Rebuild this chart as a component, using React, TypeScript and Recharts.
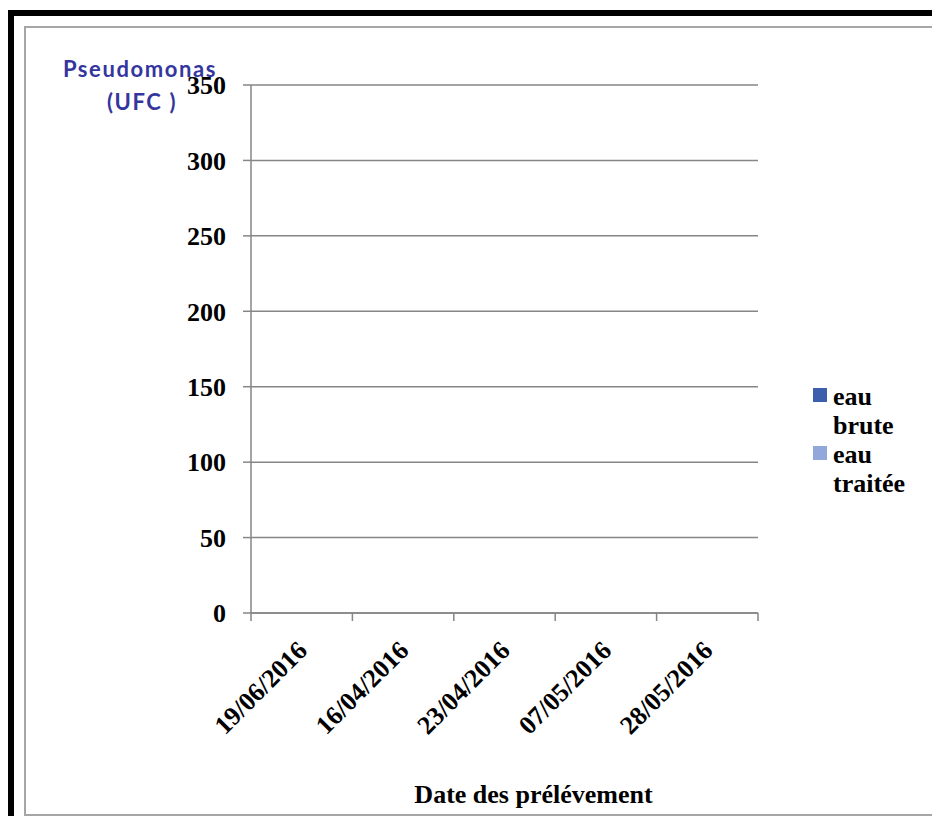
import * as React from 'react';
import { BarChart, Bar, XAxis, YAxis, CartesianGrid, Legend, Label } from 'recharts';

// sampling dates (x categories)
const dates = ['19/06/2016', '16/04/2016', '23/04/2016', '07/05/2016', '28/05/2016'];
// Pseudomonas counts (UFC) per sample
const eauBrute = [0, 0, 0, 0, 0];
const eauTraitee = [0, 0, 0, 0, 0];
const yTicks = [0, 50, 100, 150, 200, 250, 300, 350];

const seriesNames = ['eau brute', 'eau traitée'];
const seriesColors = ['#3c5fad', '#93a8da'];

const serif = '"Liberation Serif", "Times New Roman", serif';
const axisGrey = '#868686';

const data = dates.map((d, i) => ({
    date: d,
    [seriesNames[0]]: eauBrute[i],
    [seriesNames[1]]: eauTraitee[i],
}));

// rotated date label + tick marks on the category boundaries
const DateTick = (props: any) => {
    const { x, y, payload, index, visibleTicksCount } = props;
    const half = payload.offset || 50;
    const isLast = index === visibleTicksCount - 1;
    const ax = x + 7;
    const ay = y + 31;
    return (
        <g>
            <line x1={x - half} y1={y - 8} x2={x - half} y2={y} stroke={axisGrey} strokeWidth={1.5} />
            {isLast && <line x1={x + half} y1={y - 8} x2={x + half} y2={y} stroke={axisGrey} strokeWidth={1.5} />}
            <text
                x={ax}
                y={ay}
                textAnchor="end"
                transform={`rotate(-45, ${ax}, ${ay})`}
                fontFamily={serif}
                fontWeight="bold"
                fontSize={26}
                fill="#000"
            >
                {payload.value}
            </text>
        </g>
    );
};

const YTitle = (props: any) => {
    const { viewBox } = props;
    const cx = viewBox.x - 31;
    return (
        <text textAnchor="middle" fontFamily="Lato, 'Open Sans', sans-serif" fontWeight="bold" fontSize={22}
            letterSpacing={1.6} fill="#35359e">
            <tspan x={cx} y={viewBox.y - 8}>Pseudomonas</tspan>
            <tspan x={cx + 2} y={viewBox.y + 25}>(UFC )</tspan>
        </text>
    );
};

const XTitle = (props: any) => {
    const { viewBox } = props;
    return (
        <text x={viewBox.x + viewBox.width / 2 + 29} y={803} textAnchor="middle" fontFamily={serif}
            fontWeight="bold" fontSize={26} fill="#000">
            Date des prélévement
        </text>
    );
};

const LegendBox = (props: any) => {
    const items = props.payload || [];
    return (
        <div style={{ fontFamily: serif, fontWeight: 'bold', fontSize: 26, lineHeight: '29px', color: '#000' }}>
            {items.map((it: any) => (
                <div key={it.value} style={{ display: 'flex', alignItems: 'flex-start' }}>
                    <div style={{ width: 14, height: 14, background: it.color, marginTop: 6, marginRight: 6 }} />
                    <div style={{ width: 80 }}>{it.value}</div>
                </div>
            ))}
        </div>
    );
};

export default function App() {
    return (
        <div style={{ position: 'fixed', left: 0, top: 0, width: 932, height: 816, overflow: 'hidden', background: '#fff' }}>
            <div style={{ position: 'absolute', left: 8, top: 10, width: 1000, height: 900,
                borderTop: '6px solid #000', borderLeft: '6px solid #000' }} />
            <div style={{ position: 'absolute', left: 24, top: 26, width: 1000, height: 786,
                border: '2px solid #a6a6a6' }} />
            <BarChart width={932} height={816} data={data} barGap={0}
                margin={{ top: 85, right: 174, bottom: 143, left: 171 }}
                style={{ position: 'absolute', left: 0, top: 0 }}>
                <CartesianGrid vertical={false} stroke={axisGrey} strokeWidth={1.5} />
                <XAxis dataKey="date" height={60} stroke={axisGrey} strokeWidth={1.5} tickLine={false}
                    interval={0} tick={<DateTick />}>
                    <Label content={<XTitle />} />
                </XAxis>
                <YAxis width={80} domain={[0, 350]} ticks={yTicks} stroke={axisGrey} strokeWidth={1.5}
                    tickSize={8} tickMargin={17}
                    tick={{ fill: '#000', fontFamily: serif, fontWeight: 'bold', fontSize: 26 }}>
                    <Label content={<YTitle />} />
                </YAxis>
                <Legend layout="vertical" align="center" verticalAlign="middle" content={<LegendBox />}
                    wrapperStyle={{ left: 813, top: 382, width: 120 }} />
                {seriesNames.map((name, i) => (
                    <Bar key={name} dataKey={name} fill={seriesColors[i]} isAnimationActive={false} />
                ))}
            </BarChart>
        </div>
    );
}
